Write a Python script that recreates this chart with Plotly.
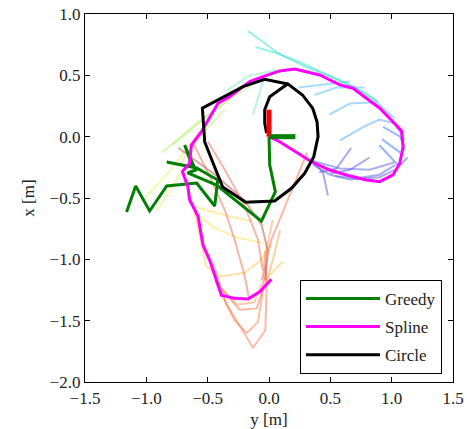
import plotly.graph_objects as go

# ---- main trajectories (y [m] on horizontal, x [m] on vertical) ----
greedy_y = [0.0, 0.006, 0.052, -0.062, -0.427, -0.663, -0.598, -0.688, -0.622, -0.834,
            -0.590, -0.418, -0.443, -0.590, -0.834, -0.973, -1.087, -1.161]
greedy_x = [0.0, -0.231, -0.449, -0.688, -0.394, -0.296, -0.272, -0.068, -0.247, -0.206,
            -0.255, -0.353, -0.565, -0.378, -0.402, -0.606, -0.402, -0.614]

spline_y = [0.0, 0.087, 0.346, 0.495, 0.631, 0.794, 0.903, 1.011, 1.066, 1.093, 1.080,
            0.998, 0.903, 0.794, 0.685, 0.577, 0.414, 0.210, 0.087, -0.049, -0.157,
            -0.321, -0.416, -0.551, -0.633, -0.647, -0.706, -0.661, -0.647, -0.579,
            -0.538, -0.484, -0.388, -0.280, -0.171, -0.076, 0.020]
spline_x = [0.0, -0.041, -0.204, -0.272, -0.312, -0.353, -0.367, -0.312, -0.217, -0.082,
            0.049, 0.136, 0.232, 0.313, 0.395, 0.422, 0.503, 0.552, 0.536, 0.489, 0.449,
            0.326, 0.272, 0.041, -0.068, -0.217, -0.285, -0.408, -0.516, -0.647,
            -0.883, -1.006, -1.292, -1.318, -1.324, -1.264, -1.163]

circle_y = [-0.02, -0.035, -0.035, 0.006, 0.114, 0.153, 0.273, 0.357, 0.392, 0.400,
            0.365, 0.291, 0.183, 0.046, -0.190, -0.378, -0.524, -0.543, -0.212,
            -0.035, 0.153]
circle_x = [0.03, 0.11, 0.22, 0.326, 0.403, 0.43, 0.34, 0.23, 0.12, 0.0,
            -0.163, -0.299, -0.421, -0.524, -0.535, -0.41, -0.043, 0.232, 0.408,
            0.468, 0.43]

# coordinate frame at origin
frame_red_y = [0.0, 0.0]
frame_red_x = [0.0, 0.22]
frame_green_y = [0.0, 0.215]
frame_green_x = [0.0, 0.0]

# ---- faint candidate trajectories: (colour, y values, x values) ----
faint = [
    ("rgba(64,230,210,0.55)", [-0.17, 0.09, 0.25, 0.50, 0.70, 0.88], [0.86, 0.67, 0.61, 0.49, 0.40, 0.29]),
    ("rgba(64,230,210,0.55)", [-0.11, 0.07, 0.30, 0.58, 0.78, 0.89], [0.73, 0.68, 0.57, 0.46, 0.36, 0.28]),
    ("rgba(120,235,185,0.5)", [-0.34, -0.16, 0.06], [0.38, 0.50, 0.54]),
    ("rgba(120,235,185,0.5)", [-0.05, -0.13], [0.45, 0.18]),
    ("rgba(185,240,120,0.5)", [-0.87, -0.60, -0.33, -0.16], [-0.13, 0.10, 0.30, 0.41]),
    ("rgba(185,240,120,0.5)", [-0.79, -0.56, -0.28], [-0.07, 0.12, 0.34]),
    ("rgba(200,240,110,0.5)", [-0.73, -0.52, -0.36], [-0.23, 0.05, 0.22]),
    ("rgba(230,245,100,0.5)", [-1.01, -0.82, -0.68, -0.52], [-0.50, -0.29, -0.11, 0.10]),
    ("rgba(230,245,100,0.5)", [-0.91, -0.75, -0.61], [-0.60, -0.34, -0.15]),
    ("rgba(255,225,100,0.55)", [-0.67, -0.61, -0.36, -0.14], [-0.42, -0.57, -0.64, -0.69]),
    ("rgba(255,225,100,0.55)", [-0.61, -0.43, -0.27, -0.04], [-0.62, -0.75, -0.82, -0.87]),
    ("rgba(255,200,90,0.55)", [-0.62, -0.56, -0.51, -0.39, -0.20, -0.07, 0.01], [-0.56, -0.84, -1.06, -1.14, -1.11, -1.01, -0.88]),
    ("rgba(255,200,90,0.55)", [0.11, -0.05], [-1.02, -1.19]),
    ("rgba(255,170,80,0.55)", [0.03, -0.01, -0.05], [-0.68, -0.88, -1.06]),
    ("rgba(255,170,80,0.55)", [0.09, 0.03, -0.02], [-0.76, -1.01, -1.19]),
    ("rgba(245,120,90,0.5)", [-0.46, -0.35, -0.13, -0.03, -0.02, -0.03], [-1.02, -1.36, -1.72, -1.58, -1.25, -0.93]),
    ("rgba(250,130,80,0.5)", [-0.44, -0.28, -0.18, -0.09, -0.06, -0.03], [-1.17, -1.50, -1.60, -1.51, -1.33, -1.05]),
    ("rgba(250,110,70,0.5)", [-0.38, -0.24, -0.10, -0.05], [-1.25, -1.41, -1.40, -1.25]),
    ("rgba(255,140,70,0.45)", [-0.42, -0.26, -0.12, -0.06], [-1.20, -1.37, -1.35, -1.20]),
    ("rgba(180,80,70,0.5)", [-0.74, -0.44, -0.20, -0.06, -0.01, -0.03], [-0.09, -0.31, -0.52, -0.72, -0.93, -1.17]),
    ("rgba(235,110,90,0.5)", [-0.62, -0.48, -0.36, -0.28, -0.20, -0.16], [-0.05, -0.33, -0.60, -0.84, -1.13, -1.33]),
    ("rgba(235,110,90,0.5)", [-0.50, -0.36, -0.20, -0.09, -0.05], [-0.04, -0.27, -0.56, -0.84, -1.09]),
    ("rgba(250,120,100,0.55)", [0.31, 0.17, 0.02, -0.06], [-0.13, -0.48, -0.84, -1.17]),
    ("rgba(110,200,250,0.6)", [0.24, 0.47, 0.66], [0.40, 0.43, 0.45]),
    ("rgba(110,200,250,0.6)", [0.37, 0.55, 0.78], [0.34, 0.40, 0.40]),
    ("rgba(110,190,250,0.6)", [0.49, 0.66, 0.88, 1.02], [0.18, 0.27, 0.28, 0.15]),
    ("rgba(110,180,250,0.6)", [0.58, 0.77, 0.90, 1.02, 1.11], [-0.03, 0.08, 0.14, 0.11, -0.03]),
    ("rgba(80,140,245,0.6)", [0.93, 1.07, 1.11], [0.08, 0.0, -0.11]),
    ("rgba(80,140,245,0.6)", [0.92, 1.07], [-0.02, -0.13]),
    ("rgba(90,120,235,0.6)", [0.90, 1.05], [-0.07, -0.23]),
    ("rgba(100,100,220,0.55)", [0.67, 0.55, 0.41], [-0.09, -0.26, -0.29]),
    ("rgba(100,100,220,0.55)", [0.82, 0.66, 0.50], [-0.17, -0.27, -0.30]),
    ("rgba(100,100,225,0.55)", [1.13, 1.03, 0.90, 0.66, 0.50, 0.36], [-0.17, -0.27, -0.33, -0.35, -0.31, -0.23]),
    ("rgba(110,100,210,0.55)", [0.36, 0.44, 0.48], [-0.21, -0.29, -0.48]),
    ("rgba(100,110,230,0.55)", [1.03, 0.90, 0.70, 0.54], [-0.23, -0.31, -0.34, -0.32]),
    ("rgba(100,110,230,0.55)", [0.33, 0.58, 0.82, 1.02], [-0.19, -0.26, -0.27, -0.21]),
]

FONT = "Liberation Serif"

fig = go.Figure()
for col, ys, xs in faint:
    fig.add_trace(go.Scatter(x=ys, y=xs, mode="lines", line=dict(color=col, width=2),
                             showlegend=False, hoverinfo="skip"))

fig.add_trace(go.Scatter(x=greedy_y, y=greedy_x, mode="lines", name="Greedy",
                         line=dict(color="green", width=3), legendgroup="g"))
fig.add_trace(go.Scatter(x=spline_y, y=spline_x, mode="lines", name="Spline",
                         line=dict(color="magenta", width=3), legendgroup="s"))
fig.add_trace(go.Scatter(x=circle_y, y=circle_x, mode="lines", name="Circle",
                         line=dict(color="black", width=3), legendgroup="c"))
fig.add_trace(go.Scatter(x=frame_red_y, y=frame_red_x, mode="lines", showlegend=False,
                         line=dict(color="red", width=5)))
fig.add_trace(go.Scatter(x=frame_green_y, y=frame_green_x, mode="lines", showlegend=False,
                         line=dict(color="green", width=5)))

axis_common = dict(showgrid=False, zeroline=False, showline=True, linecolor="black",
                   linewidth=1.3, mirror="ticks", ticks="inside", ticklen=5,
                   tickcolor="black", tickwidth=1, tickformat=".1f", automargin=False,
                   tickfont=dict(family=FONT, size=17, color="#222"), dtick=0.5)

fig.update_layout(
    width=467, height=429,
    margin=dict(l=85, r=14, t=14, b=47),
    paper_bgcolor="white", plot_bgcolor="white",
    xaxis=dict(range=[-1.5, 1.5], title=dict(text="y [m]", font=dict(family=FONT, size=17, color="#222"), standoff=11),
               **axis_common),
    yaxis=dict(range=[-2.0, 1.0], title=dict(text="x [m]", font=dict(family=FONT, size=17, color="#222"), standoff=10),
               **axis_common),
    legend=dict(x=0.97, xanchor="right", y=0.022, yanchor="bottom",
                bordercolor="black", borderwidth=1, bgcolor="white",
                font=dict(family=FONT, size=17, color="#222"),
                tracegroupgap=3, itemwidth=74),
    showlegend=True,
)

fig.write_html("out.html")
